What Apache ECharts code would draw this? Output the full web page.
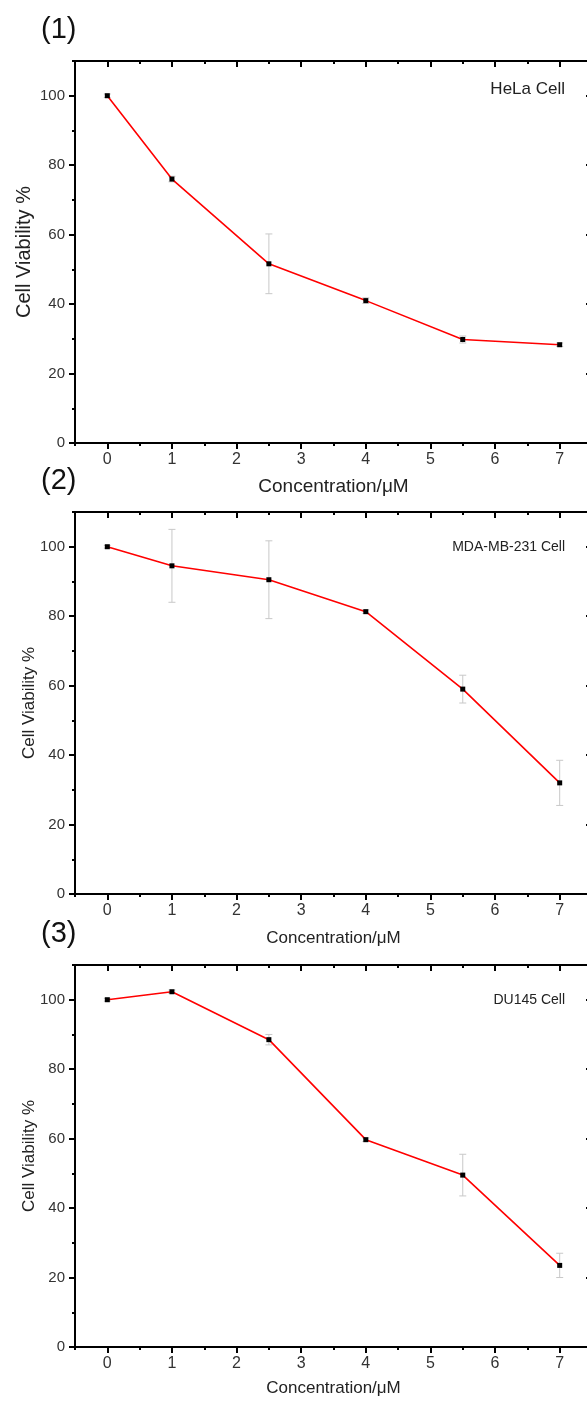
<!DOCTYPE html>
<html>
<head>
<meta charset="utf-8">
<script src="https://cdn.jsdelivr.net/npm/echarts@6/dist/echarts.min.js"></script>
<style>
  html, body { margin: 0; padding: 0; background: #fff; }
  #main { width: 587px; height: 1401px; }
</style>
</head>
<body>
<div id="main"></div>
<script>
// concentrations (µM)
const concentrations = [0, 1, 2.5, 4, 5.5, 7];

// HeLa
const helaMean = [100, 76, 51.6, 41, 29.8, 28.3];
const helaErr = [0.5, 0.8, 8.6, 0.8, 1, 0.5];
// MDA-MB-231
const mdaMean = [100, 94.5, 90.5, 81.3, 59, 32];
const mdaErr = [0.4, 10.5, 11.2, 0.5, 4, 6.5];
// DU145
const duMean = [100, 102.3, 88.5, 59.7, 49.5, 23.5];
const duErr = [0.4, 0.5, 1.5, 0.5, 6, 3.5];

const panelNames = ['(1)', '(2)', '(3)'];
const cellNames = ['HeLa Cell', 'MDA-MB-231 Cell', 'DU145 Cell'];

// ticks
const xMajor = [0, 1, 2, 3, 4, 5, 6, 7];
const xMinor = [-0.5, 0.5, 1.5, 2.5, 3.5, 4.5, 5.5, 6.5, 7.5];
const yMajor = [0, 20, 40, 60, 80, 100];
const yMinor = [10, 30, 50, 70, 90, 110];

const FONT = 'Liberation Sans';
const chart = echarts.init(document.getElementById('main'));

const panels = [
  { mean: helaMean, err: helaErr, top: 61, xName: 19, yName: 20, yGap: 41, xGap: 34, cell: 17, cellY: 28 },
  { mean: mdaMean, err: mdaErr, top: 512, xName: 17, yName: 17, yGap: 37, xGap: 36, cell: 14, cellY: 35 },
  { mean: duMean, err: duErr, top: 965, xName: 17, yName: 17, yGap: 37, xGap: 33, cell: 14, cellY: 35 }
];
const plotH = 382;

const grids = [], xAxes = [], yAxes = [], series = [], titles = [];

panels.forEach(function (p, g) {
  grids.push({ left: 75, width: 517, top: p.top, height: plotH, outerBoundsMode: 'none', containLabel: false });

  const baseX = { gridIndex: g, type: 'value', min: -0.5, max: 7.5, splitLine: { show: false } };
  const baseY = { gridIndex: g, type: 'value', min: 0, max: 110, splitLine: { show: false } };
  const lineStyle = { color: '#000', width: 2 };
  const tickStyle = { color: '#000', width: 2 };

  // bottom: main axis with labels and long ticks
  xAxes.push(Object.assign({}, baseX, {
    position: 'bottom',
    name: 'Concentration/μM', nameLocation: 'middle', nameGap: p.xGap,
    nameTextStyle: { fontFamily: FONT, fontSize: p.xName, color: '#222' },
    axisLine: { show: true, onZero: false, lineStyle: lineStyle },
    axisTick: { show: true, customValues: xMajor, length: 6, lineStyle: tickStyle },
    axisLabel: { customValues: xMajor, fontFamily: FONT, fontSize: 16, color: '#333', margin: 9 }
  }));
  // bottom: short ticks
  xAxes.push(Object.assign({}, baseX, {
    position: 'bottom',
    axisLine: { show: false, onZero: false },
    axisTick: { show: true, customValues: xMinor, length: 3, lineStyle: tickStyle },
    axisLabel: { show: false }
  }));
  // top mirror
  xAxes.push(Object.assign({}, baseX, {
    position: 'top',
    axisLine: { show: true, onZero: false, lineStyle: lineStyle },
    axisTick: { show: true, inside: true, customValues: xMajor, length: 6, lineStyle: tickStyle },
    axisLabel: { show: false }
  }));
  xAxes.push(Object.assign({}, baseX, {
    position: 'top',
    axisLine: { show: false, onZero: false },
    axisTick: { show: true, inside: true, customValues: xMinor, length: 3, lineStyle: tickStyle },
    axisLabel: { show: false }
  }));

  // left: main axis
  yAxes.push(Object.assign({}, baseY, {
    position: 'left',
    name: 'Cell Viability %', nameLocation: 'middle', nameGap: p.yGap, nameMoveOverlap: false,
    nameTextStyle: { fontFamily: FONT, fontSize: p.yName, color: '#222' },
    axisLine: { show: true, onZero: false, lineStyle: lineStyle },
    axisTick: { show: true, customValues: yMajor, length: 6, lineStyle: tickStyle },
    axisLabel: { customValues: yMajor, fontFamily: FONT, fontSize: 15, color: '#333', margin: 10 }
  }));
  yAxes.push(Object.assign({}, baseY, {
    position: 'left',
    axisLine: { show: false, onZero: false },
    axisTick: { show: true, customValues: yMinor, length: 3, lineStyle: tickStyle },
    axisLabel: { show: false }
  }));
  // right mirror
  yAxes.push(Object.assign({}, baseY, {
    position: 'right',
    axisLine: { show: true, onZero: false, lineStyle: lineStyle },
    axisTick: { show: true, inside: true, customValues: yMajor, length: 6, lineStyle: tickStyle },
    axisLabel: { show: false }
  }));
  yAxes.push(Object.assign({}, baseY, {
    position: 'right',
    axisLine: { show: false, onZero: false },
    axisTick: { show: true, inside: true, customValues: yMinor, length: 3, lineStyle: tickStyle },
    axisLabel: { show: false }
  }));

  const xi = g * 4, yi = g * 4;
  const pts = concentrations.map(function (c, i) { return [c, p.mean[i]]; });
  const bars = concentrations.map(function (c, i) { return [c, p.mean[i] - p.err[i], p.mean[i] + p.err[i]]; });

  series.push({
    type: 'custom',
    xAxisIndex: xi, yAxisIndex: yi,
    z: 1,
    encode: { x: 0, y: [1, 2] },
    data: bars,
    renderItem: function (params, api) {
      const lo = api.coord([api.value(0), api.value(1)]);
      const hi = api.coord([api.value(0), api.value(2)]);
      const w = 3.5;
      const st = { stroke: '#c8c8c8', lineWidth: 1 };
      return {
        type: 'group',
        children: [
          { type: 'line', shape: { x1: lo[0], y1: lo[1], x2: hi[0], y2: hi[1] }, style: st },
          { type: 'line', shape: { x1: lo[0] - w, y1: lo[1], x2: lo[0] + w, y2: lo[1] }, style: st },
          { type: 'line', shape: { x1: hi[0] - w, y1: hi[1], x2: hi[0] + w, y2: hi[1] }, style: st }
        ]
      };
    }
  });
  series.push({
    type: 'line',
    xAxisIndex: xi, yAxisIndex: yi,
    z: 2,
    data: pts,
    symbol: 'rect', symbolSize: 5,
    itemStyle: { color: '#000' },
    lineStyle: { color: '#ff0000', width: 1.6 },
    animation: false
  });

  titles.push({
    text: panelNames[g], left: 41, top: p.top - 46, padding: 0,
    textStyle: { fontFamily: FONT, fontSize: 29, fontWeight: 'normal', color: '#111' }
  });
  titles.push({
    text: cellNames[g], right: 22, top: p.top + p.cellY - p.cell / 2, padding: 0,
    textStyle: { fontFamily: FONT, fontSize: p.cell, fontWeight: 'normal', color: '#222' }
  });
});

chart.setOption({
  animation: false,
  backgroundColor: '#fff',
  title: titles,
  grid: grids,
  xAxis: xAxes,
  yAxis: yAxes,
  series: series
});
</script>
</body>
</html>
